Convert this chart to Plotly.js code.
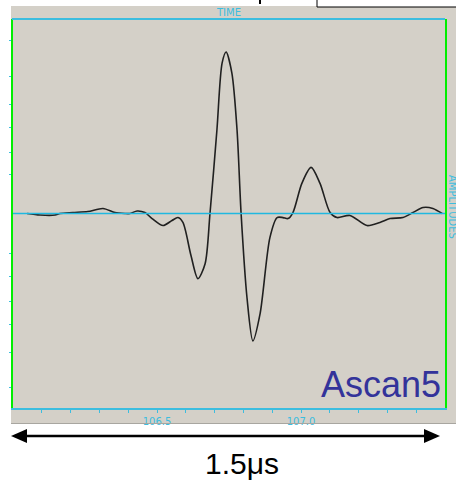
<!DOCTYPE html>
<html>
<head>
<meta charset="utf-8">
<script src="https://cdn.plot.ly/plotly-3.0.1.min.js"></script>
<style>html,body{margin:0;padding:0;background:#fff;}#chart{width:456px;height:480px;}</style>
</head>
<body>
<div id="chart"></div>
<script>
// Time axis (microseconds)
const timeUs = [106.049,106.094,106.146,106.163,106.208,106.260,106.3125,106.354,106.389,106.406,106.431,106.458,106.483,106.521,106.552,106.573,106.590,106.618,106.642,106.667,106.684,106.708,106.726,106.740,106.760,106.778,106.792,106.8125,106.833,106.858,106.892,106.917,106.9375,106.955,106.972,107.003,107.035,107.066,107.101,107.125,107.170,107.229,107.274,107.309,107.354,107.389,107.424,107.458,107.490];
// Amplitude (normalised)
const amplitude = [0,-0.008,-0.008,0,0.005,0.010,0.026,0.005,0,0,0.013,0.005,-0.026,-0.062,-0.036,-0.021,-0.046,-0.216,-0.335,-0.258,0,0.428,0.773,0.830,0.722,0.428,0,-0.433,-0.655,-0.515,-0.124,-0.021,-0.021,-0.026,0.005,0.155,0.237,0.155,0.005,-0.021,-0.010,-0.062,-0.046,-0.026,-0.021,0.005,0.031,0.026,0];
const xTickVals = [106.1,106.2,106.3,106.4,106.5,106.6,106.7,106.8,106.9,107.0,107.1,107.2,107.3,107.4];
const xTickText = ['','','','','106.5','','','','','107.0','','','',''];
const yTickVals = [-0.897,-0.716,-0.572,-0.454,-0.325,-0.206,0.201,0.314,0.443,0.562,0.706,0.892];

const W = 456, H = 480;
const M = {l:13, r:11, t:19, b:72};
const pw = W - M.l - M.r, ph = H - M.t - M.b;
const px = p => (p - M.l) / pw;
const py = p => (H - M.b - p) / ph;

const cyan = '#3cbddf';
const green = '#00ee00';

const shapes = [
  {type:'rect', xref:'paper', yref:'paper', x0:px(11), x1:px(460), y0:py(424), y1:py(6), fillcolor:'#d4d0c8', line:{width:0}, layer:'below'},
  {type:'line', xref:'paper', yref:'paper', x0:0, x1:1, y0:py(213.5), y1:py(213.5), line:{color:'#20b8e0', width:1.5}, layer:'above'},
  {type:'line', xref:'paper', yref:'paper', x0:px(11), x1:px(460), y0:py(423.5), y1:py(423.5), line:{color:'#a8a6a0', width:1}},
  {type:'rect', xref:'paper', yref:'paper', x0:px(317), x1:px(470), y0:py(7), y1:py(-5), fillcolor:'#ffffff', line:{color:'#000', width:1}},
  {type:'line', xref:'paper', yref:'paper', x0:px(260), x1:px(260), y0:py(0), y1:py(4), line:{color:'#000', width:2}},
  {type:'line', xref:'paper', yref:'paper', x0:px(26), x1:px(426), y0:py(436), y1:py(436), line:{color:'#000', width:2.5}},
  {type:'path', xref:'paper', yref:'paper', path:`M ${px(11)} ${py(436)} L ${px(27)} ${py(429)} L ${px(27)} ${py(443)} Z`, fillcolor:'#000', line:{color:'#000', width:0}},
  {type:'path', xref:'paper', yref:'paper', path:`M ${px(440)} ${py(436)} L ${px(424)} ${py(429)} L ${px(424)} ${py(443)} Z`, fillcolor:'#000', line:{color:'#000', width:0}},
  {type:'line', xref:'paper', yref:'paper', x0:px(12), x1:px(445), y0:1, y1:1, line:{color:cyan, width:2}}
];

const data = [{
  x: timeUs, y: amplitude, type:'scatter', mode:'lines',
  line:{color:'#202020', width:1.6, shape:'spline', smoothing:0.8},
  hoverinfo:'skip'
}];

const layout = {
  width: W, height: H,
  margin: M,
  paper_bgcolor:'#ffffff',
  plot_bgcolor:'rgba(0,0,0,0)',
  showlegend:false,
  title:{text:'TIME', x:px(229), xref:'paper', xanchor:'center', y:1-12.5/H, yanchor:'middle', font:{family:'DejaVu Sans, sans-serif', size:10, color:cyan}},
  xaxis:{range:[106.0,107.5], tickmode:'array', tickvals:xTickVals, ticktext:xTickText, ticks:'outside', ticklen:3, tickcolor:cyan, tickwidth:1,
         showline:true, linecolor:cyan, linewidth:1.5, mirror:false, showgrid:false, zeroline:false,
         tickfont:{family:'DejaVu Sans, sans-serif', size:10, color:cyan}, fixedrange:true},
  yaxis:{range:[-1.0,1.0], tickmode:'array', tickvals:yTickVals, ticks:'outside', ticklen:2, tickcolor:cyan, tickwidth:1,
         showticklabels:false, showline:true, linecolor:green, linewidth:2, mirror:true, showgrid:false,
         zeroline:false, fixedrange:true},
  shapes: shapes,
  annotations:[
    {text:'Ascan5', xref:'paper', yref:'paper', x:px(443), y:py(384), xanchor:'right', yanchor:'middle', showarrow:false,
     font:{family:'Liberation Sans, Arial, sans-serif', size:36, color:'#33339a'}},
    {text:'1.5μs', xref:'paper', yref:'paper', x:px(242), y:py(463), xanchor:'center', yanchor:'middle', showarrow:false,
     font:{family:'Liberation Sans, Arial, sans-serif', size:30, color:'#000'}},
    {text:'AMPLITUDES', xref:'paper', yref:'paper', x:px(453), y:py(207), xanchor:'center', yanchor:'middle', textangle:90, showarrow:false,
     font:{family:'DejaVu Sans, sans-serif', size:10, color:cyan}}
  ]
};

Plotly.newPlot('chart', data, layout, {staticPlot:true, displayModeBar:false});
</script>
</body>
</html>
